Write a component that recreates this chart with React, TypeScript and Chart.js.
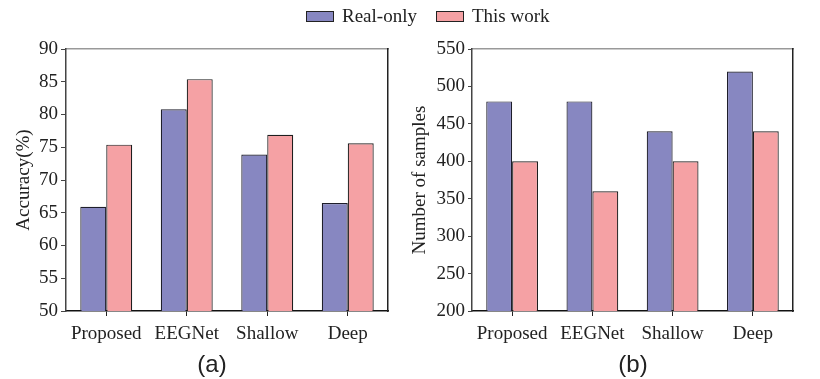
import React, { useEffect, useRef } from "react";
import { Chart, registerables } from "chart.js";

Chart.register(...registerables);

const categories = ["Proposed", "EEGNet", "Shallow", "Deep"];
const seriesNames = ["Real-only", "This work"];
const seriesColors = ["#8787C1", "#F5A1A4"];

const accuracyRealOnly = [65.9, 80.8, 73.9, 66.5];
const accuracyThisWork = [75.4, 85.4, 76.9, 75.6];

const samplesRealOnly = [480, 480, 440, 520];
const samplesThisWork = [400, 360, 400, 440];

const accuracyTicks = { min: 50, max: 90, step: 5 };
const samplesTicks = { min: 200, max: 550, step: 50 };

const SERIF = "'Liberation Serif', 'Times New Roman', serif";
const SANS = "'Liberation Sans', Arial, sans-serif";

function makeConfig(
  a: number[],
  b: number[],
  ticks: { min: number; max: number; step: number },
  title: string,
  yWidth: number,
  padRight: number,
  titlePad: number,
  tickLen: number,
  tickPad: number
): any {
  return {
    type: "bar",
    data: {
      labels: categories,
      datasets: [
        {
          label: seriesNames[0],
          data: a,
          backgroundColor: seriesColors[0],
          borderColor: "#1e1e2a",
          borderWidth: 1.2,
          categoryPercentage: 0.645,
          barPercentage: 1,
        },
        {
          label: seriesNames[1],
          data: b,
          backgroundColor: seriesColors[1],
          borderColor: "#1e1e1e",
          borderWidth: 1.2,
          categoryPercentage: 0.645,
          barPercentage: 1,
        },
      ],
    },
    options: {
      animation: false,
      responsive: false,
      maintainAspectRatio: false,
      layout: { padding: { left: 0, right: padRight, top: 49, bottom: 0 } },
      plugins: {
        legend: { display: false },
        tooltip: { enabled: false },
        title: { display: false },
      },
      scales: {
        x: {
          type: "category",
          position: "bottom",
          offset: true,
          grid: {
            display: true,
            drawOnChartArea: false,
            drawTicks: true,
            tickLength: 5,
            offset: false,
            color: "#222",
          },
          border: { display: true, color: "#111", width: 1.5 },
          ticks: {
            color: "#222",
            font: { family: SERIF, size: 19 },
            padding: 7,
            maxRotation: 0,
            autoSkip: false,
          },
          afterFit: (s: any) => {
            s.height = 68;
          },
        },
        x2: {
          type: "category",
          position: "top",
          labels: categories,
          grid: { display: false },
          border: { display: true, color: "#999", width: 1.5 },
          ticks: { display: false },
          afterFit: (s: any) => {
            s.height = 0;
          },
        },
        y: {
          type: "linear",
          position: "left",
          min: ticks.min,
          max: ticks.max,
          grid: {
            display: true,
            drawOnChartArea: false,
            drawTicks: true,
            tickLength: tickLen,
            color: "#444",
          },
          border: { display: true, color: "#444", width: 1.5 },
          ticks: {
            stepSize: ticks.step,
            color: "#222",
            font: { family: SERIF, size: 19 },
            padding: tickPad,
          },
          title: {
            display: true,
            text: title,
            color: "#222",
            font: { family: SERIF, size: 19 },
            padding: { top: titlePad, bottom: 0 },
          },
          afterFit: (s: any) => {
            s.width = yWidth;
          },
        },
        y2: {
          type: "linear",
          position: "right",
          min: ticks.min,
          max: ticks.max,
          grid: { display: false },
          border: { display: true, color: "#222", width: 1.5 },
          ticks: { display: false },
          afterFit: (s: any) => {
            s.width = 0;
          },
        },
      },
    },
  };
}

function BarPanel(props: { left: number; config: any }) {
  const ref = useRef<HTMLCanvasElement | null>(null);
  useEffect(() => {
    if (!ref.current) return;
    const chart = new Chart(ref.current, props.config);
    return () => chart.destroy();
  }, []);
  return (
    <div style={{ position: "absolute", left: props.left, top: 0, width: 410, height: 379 }}>
      <canvas ref={ref} width={410} height={379} style={{ width: 410, height: 379 }} />
    </div>
  );
}

export default function App() {
  const leftCfg = makeConfig(accuracyRealOnly, accuracyThisWork, accuracyTicks, "Accuracy(%)", 66, 22, 13, 5, 3);
  const rightCfg = makeConfig(samplesRealOnly, samplesThisWork, samplesTicks, "Number of samples", 63, 26, 0, 4, 3);
  return (
    <div
      style={{
        position: "fixed",
        left: 0,
        top: 0,
        width: 820,
        height: 379,
        background: "#fff",
        overflow: "hidden",
      }}
    >
      <BarPanel left={0} config={leftCfg} />
      <BarPanel left={409} config={rightCfg} />
      <div
        style={{
          position: "absolute",
          left: 306,
          top: 5,
          height: 22,
          display: "flex",
          alignItems: "center",
          fontFamily: SERIF,
          fontSize: 19,
          color: "#222",
          whiteSpace: "nowrap",
        }}
      >
        {seriesNames.map((n, i) => (
          <React.Fragment key={n}>
            <span
              style={{
                display: "inline-block",
                width: 26,
                height: 9,
                background: seriesColors[i],
                border: "1.5px solid #222",
                marginRight: 8,
                marginLeft: i === 0 ? 0 : 19,
              }}
            />
            <span>{n}</span>
          </React.Fragment>
        ))}
      </div>
      <div
        style={{
          position: "absolute",
          left: 212,
          top: 364,
          transform: "translate(-50%, -50%)",
          fontFamily: SANS,
          fontSize: 24,
          color: "#222",
        }}
      >
        (a)
      </div>
      <div
        style={{
          position: "absolute",
          left: 633,
          top: 364,
          transform: "translate(-50%, -50%)",
          fontFamily: SANS,
          fontSize: 24,
          color: "#222",
        }}
      >
        (b)
      </div>
    </div>
  );
}
